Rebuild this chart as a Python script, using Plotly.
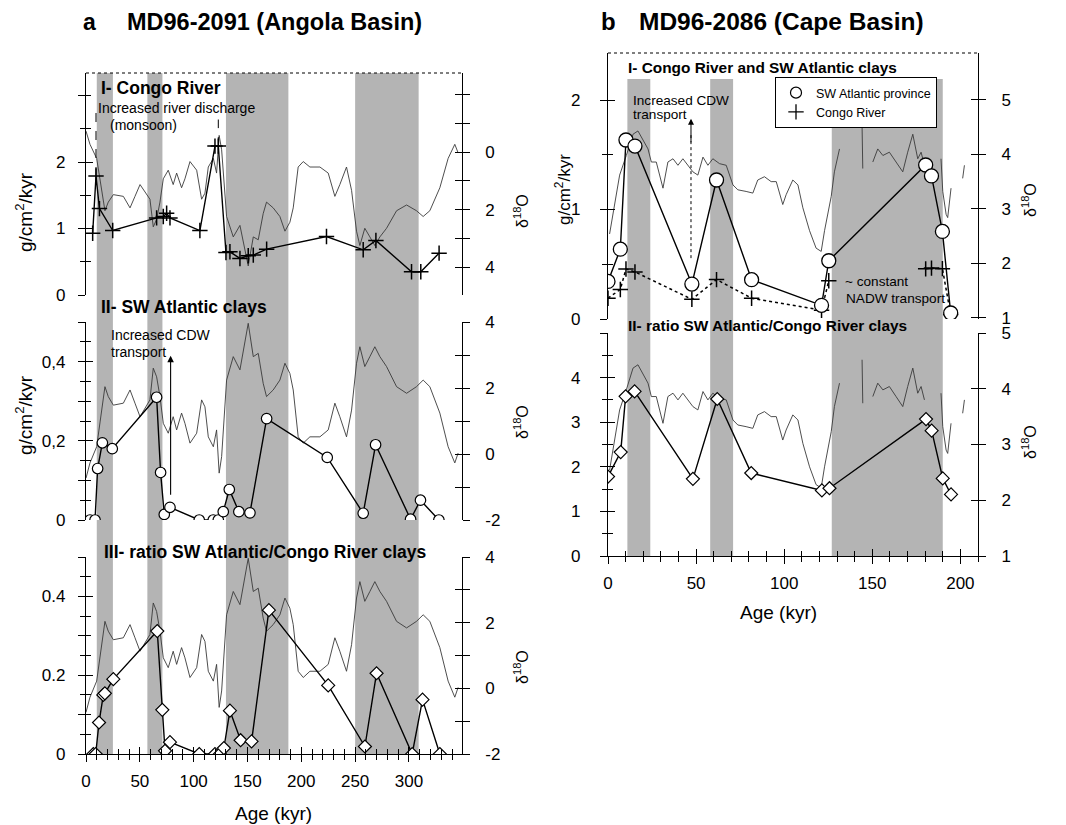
import plotly.graph_objects as go

W, H = 1066, 825
OFF = 8  # the page body margin that the browser adds around the figure

# ---------------------------------------------------------------- data
# glacial stages (shaded), kyr
bands_a_start = [10, 57, 130, 250]
bands_a_end = [25, 71, 188, 309]
bands_b_start = [11, 58, 127]
bands_b_end = [24, 71, 190]

# MD96-2091 benthic d18O
d18o_a_age = [0, 3.7, 9.9, 17.6, 20.7, 25.4, 34.7, 40.9, 45.5, 50.2, 59.4, 62.5, 65.6, 68.7,
              71.8, 76.4, 81, 84.2, 88.8, 91.9, 96.6, 102.8, 107.4, 110.5, 113.6, 118.3, 121.3,
              123.7, 126, 130.6, 136.8, 143, 150.7, 155.4, 160, 164.6, 167.7, 173.9, 180.1,
              184.8, 189.4, 192.5, 197.1, 201.8, 208, 217.3, 225, 231.2, 235.8, 242, 246.7,
              251.3, 254.4, 259, 263.7, 268.3, 273, 279.2, 288.5, 297.8, 307, 313.2, 319.4,
              328.7, 336.4, 342.6, 345.7]
d18o_a = [-0.73, -0.27, 0.22, 2.04, 1.74, 1.48, 1.54, 1.94, 1.54, 1.13, 1.64, 2.6, 2.34, 1.74,
          0.93, 0.63, 1.13, 0.73, 1.24, 0.93, 0.33, 0.63, 1.64, 1.43, 0.52, 0.22, 0.73,
          -0.58, -0.08, 2.24, 2.95, 2.55, 3.96, 2.95, 3.05, 2.14, 1.74, 1.94, 2.24,
          2.75, 2.44, 1.94, 0.52, 0.33, 0.52, 0.52, 0.73, 1.54, 1.13, 0.52, 1.33,
          2.75, 3.25, 2.65, 2.95, 3.25, 2.95, 2.65, 2.04, 1.84, 2.04, 2.24, 2.04,
          1.24, 0.22, -0.27, 0.03]

# MD96-2091 Congo River clays (g/cm2/kyr)
congo_a_age = [6.2, 9.3, 12.5, 24.8, 65.6, 71.8, 74.9, 78.0, 105.8, 119.8, 122.9, 130.0, 133.7,
               143.0, 150.7, 155.4, 167.8, 223.4, 257.5, 269.3, 302.4, 311.0, 328.0]
congo_a = [0.93, 1.79, 1.3, 0.97, 1.16, 1.18, 1.23, 1.16, 0.97, 2.24, 2.24, 0.64, 0.65,
           0.55, 0.59, 0.60, 0.69, 0.88, 0.68, 0.82, 0.35, 0.35, 0.63]

# MD96-2091 SW Atlantic clays (g/cm2/kyr)
sw_a_age = [3.7, 8.4, 10.8, 15.2, 24.4, 65.6, 69.3, 72.7, 78.0, 105.2, 118.2, 122.9, 127.5,
            133.1, 142.0, 152.3, 167.8, 224.1, 257.5, 269.0, 301.5, 310.7, 327.8]
sw_a = [0, 0, 0.13, 0.195, 0.18, 0.31, 0.12, 0.014, 0.032, 0, 0, 0, 0.021,
        0.077, 0.021, 0.018, 0.256, 0.158, 0.017, 0.19, 0.002, 0.05, 0]

# MD96-2091 ratio SW Atlantic / Congo River
ratio_a_age = [6.8, 9.0, 12.1, 16.1, 17.5, 25.4, 66.2, 70.9, 73.4, 78.0, 105.2, 119.8, 124.4,
               128.1, 133.7, 143.6, 153.8, 169.9, 225.0, 259.1, 269.9, 303.0, 312.6, 328.7]
ratio_a = [0, 0, 0.08, 0.15, 0.154, 0.19, 0.312, 0.112, 0.008, 0.03, 0, 0, 0,
           0.015, 0.11, 0.035, 0.032, 0.365, 0.174, 0.019, 0.205, 0, 0.138, 0]

# MD96-2086 benthic d18O (None = gap in record)
d18o_b_age = [0.9, 3.8, 6.6, 10.4, 14.2, 17, 19.8, 22.7, 24.6, 27.4, 31.2, 34, 36.9, 39.7, 42.5,
              45.4, 48.2, 51, 53.9, 56.7, 59.5, 63.3, 67.1, 70.9, 73.7, 78.4, 82.2, 85, 88.8,
              92.6, 95.5, 99.2, 101.1, 104.9, 107.8, 110.6, 114.4, 118.1, 121, 122.9, 124.8,
              126.7, 128.5, 131.4, None, 144.2, 144.6, None, 150.3, 153.1, 156, 159.7, 163.5,
              167.3, 170.1, 173, 175.8, 177.7, 179.6, None, 189, 190, 191.9, 192.8, 194.7,
              None, 201.3, 202.3]
d18o_b = [2.54, 3.08, 3.62, 3.98, 4.37, 4.43, 4.28, 4.1, 3.86, 3.86, 3.38, 3.86, 3.92, 3.8, 3.92,
          3.8, 3.68, 3.62, 3.95, 3.8, 3.92, 3.83, 3.8, 3.44, 3.35, 3.32, 3.29, 3.53, 3.59,
          3.5, 3.5, 3.08, 3.26, 3.53, 3.44, 3.02, 2.6, 2.28, 2.22, 2.6, 2.9,
          3.23, 3.68, 4.1, None, 4.52, 3.74, None, 3.86, 4.1, 3.98, 4.04, 3.86,
          3.68, 4.04, 4.37, 3.92, 4.04, 3.8, None, 3.92, 3.32, 2.9, 2.84, 3.38,
          None, 3.56, 3.8]

# MD96-2086 clays (g/cm2/kyr)
sw_b_age = [0, 7, 10.2, 15.3, 47.6, 61.6, 81.5, 121.2, 125.3, 180.3, 183.6, 189.8, 194.5]
sw_b = [0.343, 0.638, 1.635, 1.58, 0.319, 1.27, 0.359, 0.125, 0.532, 1.407, 1.307, 0.80, 0.055]
congo_b_age = [0, 7, 10.2, 15.3, 47.6, 61.6, 81.5, 121.2, 125.3, None, 180.3, 183.6, 189.8, 194.5]
congo_b = [0.19, 0.27, 0.457, 0.43, 0.18, 0.36, 0.19, 0.08, 0.35, None, 0.458, 0.465, 0.46, 0.04]

# MD96-2086 ratio
ratio_b_age = [0, 7.2, 10, 15.1, 48.2, 62, 81.3, 121.4, 125.7, 180.5, 183.7, 190, 194.7]
ratio_b = [1.78, 2.33, 3.58, 3.69, 1.73, 3.52, 1.86, 1.47, 1.52, 3.07, 2.81, 1.74, 1.38]

# ---------------------------------------------------------------- layout helpers
FONT = "Liberation Sans, Arial, sans-serif"


def fx(p):
    return (p - OFF) / W


def fy(p):
    return 1 - (p - OFF) / H


A_X = (86, 461.7)
B_X = (608, 978)
A1 = (73, 295)
A2 = (322, 520)
A3 = (557, 754)
B1 = (53, 319)
B2 = (333, 556)


def dom_y(top_bottom):
    t, b = top_bottom
    return [fy(b), fy(t)]


base = dict(showline=True, linecolor="black", linewidth=1.4, ticks="outside", ticklen=7,
            tickwidth=1.2, tickcolor="black", showgrid=False, zeroline=False,
            tickfont=dict(size=17, color="black", family=FONT), fixedrange=True)

layout_axes = {}


def add_axis(name, dup_name, overlay_base, **kw):
    ax = dict(base)
    ax.update(kw)
    layout_axes[name] = ax
    # duplicate axis with inside ticks -> ticks cross the axis line
    d = dict(kw)
    d.update(showline=False, showticklabels=False, ticks="inside", ticklen=7, tickwidth=1.2,
             tickcolor="black", showgrid=False, zeroline=False, fixedrange=True,
             overlaying=overlay_base)
    d.pop("domain", None)
    if "minor" in kw:
        m = dict(kw["minor"])
        m["ticks"] = "inside"
        d["minor"] = m
    layout_axes[dup_name] = d


def minor(dt, ln=5):
    return dict(tickmode="linear", tick0=0, dtick=dt, ticks="outside", ticklen=ln,
                tickwidth=1, tickcolor="black")


# x axes
add_axis("xaxis", "xaxis3", "x", domain=[fx(A_X[0]), fx(A_X[1])], range=[0, 349], anchor="y5",
         tickmode="array", tickvals=[0, 50, 100, 150, 200, 250, 300], minor=minor(10, 5),
         ticklabelstandoff=4)
add_axis("xaxis2", "xaxis4", "x2", domain=[fx(B_X[0]), fx(B_X[1])], range=[0, 210], anchor="y9",
         tickmode="array", tickvals=[0, 50, 100, 150, 200], minor=minor(10, 5),
         ticklabelstandoff=4)

# panel a I
add_axis("yaxis", "yaxis11", "y", domain=dom_y(A1), range=[4.97, -2.75], side="right", anchor="x",
         tickmode="array", tickvals=[-2, -1, 0, 1, 2, 3, 4, 5],
         ticktext=["", "", "0", "", "2", "", "4", ""], ticklabelstandoff=12)
add_axis("yaxis2", "yaxis12", "y", overlaying="y", range=[0, 3.34], side="left", anchor="x",
         tickmode="array", tickvals=[0, 1, 2, 3], ticktext=["0", "1", "2", ""],
         minor=minor(0.5), ticklabelstandoff=9)
# panel a II
add_axis("yaxis3", "yaxis13", "y3", domain=dom_y(A2), range=[-2, 4], side="right", anchor="x",
         tickmode="array", tickvals=[-2, -1, 0, 1, 2, 3, 4],
         ticktext=["-2", "", "0", "", "2", "", "4"], ticklabelstandoff=12)
add_axis("yaxis4", "yaxis14", "y3", overlaying="y3", range=[0, 0.5], side="left", anchor="x",
         tickmode="array", tickvals=[0, 0.1, 0.2, 0.3, 0.4, 0.5],
         ticktext=["0", "", "0,2", "", "0,4", ""], minor=minor(0.05), ticklabelstandoff=9)
# panel a III
add_axis("yaxis5", "yaxis15", "y5", domain=dom_y(A3), range=[-2, 4], side="right", anchor="x",
         tickmode="array", tickvals=[-2, -1, 0, 1, 2, 3, 4],
         ticktext=["-2", "", "0", "", "2", "", "4"], ticklabelstandoff=12)
add_axis("yaxis6", "yaxis16", "y5", overlaying="y5", range=[0, 0.5], side="left", anchor="x",
         tickmode="array", tickvals=[0, 0.1, 0.2, 0.3, 0.4, 0.5],
         ticktext=["0", "", "0.2", "", "0.4", ""], minor=minor(0.05), ticklabelstandoff=9)
# panel b I
add_axis("yaxis7", "yaxis17", "y7", domain=dom_y(B1), range=[0.98, 5.86], side="right", anchor="x2",
         tickmode="array", tickvals=[1, 2, 3, 4, 5], ticklabelstandoff=12)
add_axis("yaxis8", "yaxis18", "y7", overlaying="y7", range=[0, 2.43], side="left", anchor="x2",
         tickmode="array", tickvals=[0, 1, 2], minor=minor(0.5), ticklabelstandoff=16)
# panel b II
add_axis("yaxis9", "yaxis19", "y9", domain=dom_y(B2), range=[1, 5], side="right", anchor="x2",
         tickmode="array", tickvals=[1, 2, 3, 4, 5], ticklabelstandoff=12)
add_axis("yaxis10", "yaxis20", "y9", overlaying="y9", range=[0, 5], side="left", anchor="x2",
         tickmode="array", tickvals=[0, 1, 2, 3, 4, 5], ticktext=["0", "1", "2", "3", "4", ""],
         minor=minor(0.5), ticklabelstandoff=16)

fig = go.Figure()

# empty traces so that every duplicate axis is rendered
for xa, ya in [("x3", "y5"), ("x4", "y9"), ("x", "y11"), ("x", "y12"), ("x", "y13"),
               ("x", "y14"), ("x", "y15"), ("x", "y16"), ("x2", "y17"), ("x2", "y18"),
               ("x2", "y19"), ("x2", "y20")]:
    fig.add_trace(go.Scatter(x=[None], y=[None], xaxis=xa, yaxis=ya, mode="markers",
                             showlegend=False, hoverinfo="skip"))

ISO = dict(color="#3a3a3a", width=0.9)
DATA = dict(color="black", width=1.4)

# d18O curves
for ya in ["y", "y3", "y5"]:
    fig.add_trace(go.Scatter(x=d18o_a_age, y=d18o_a, xaxis="x", yaxis=ya, mode="lines",
                             line=ISO, showlegend=False, hoverinfo="skip"))
for ya in ["y7", "y9"]:
    fig.add_trace(go.Scatter(x=d18o_b_age, y=d18o_b, xaxis="x2", yaxis=ya, mode="lines",
                             line=ISO, showlegend=False, hoverinfo="skip", connectgaps=False))

PLUS = dict(symbol="cross-thin", size=11, color="black", line=dict(color="black", width=1.5))
CIRC_A = dict(symbol="circle", size=10.5, color="white", line=dict(color="black", width=1.2))
CIRC_B = dict(symbol="circle", size=14, color="white", line=dict(color="black", width=1.3))
DIAM = dict(symbol="diamond", size=10, color="white", line=dict(color="black", width=1.2))

# panel a
fig.add_trace(go.Scatter(x=congo_a_age, y=congo_a, xaxis="x", yaxis="y2", mode="lines+markers",
                         line=DATA, marker=PLUS, showlegend=False))
fig.add_trace(go.Scatter(x=sw_a_age, y=sw_a, xaxis="x", yaxis="y4", mode="lines+markers",
                         line=DATA, marker=CIRC_A, showlegend=False))
fig.add_trace(go.Scatter(x=ratio_a_age, y=ratio_a, xaxis="x", yaxis="y6", mode="lines+markers",
                         line=DATA, marker=DIAM, showlegend=False))
# panel b
fig.add_trace(go.Scatter(x=congo_b_age, y=congo_b, xaxis="x2", yaxis="y8", mode="lines+markers",
                         line=dict(color="black", width=1.5, dash="dot"), marker=PLUS,
                         showlegend=False, connectgaps=False))
fig.add_trace(go.Scatter(x=sw_b_age, y=sw_b, xaxis="x2", yaxis="y8", mode="lines+markers",
                         line=DATA, marker=CIRC_B, showlegend=False))
fig.add_trace(go.Scatter(x=ratio_b_age, y=ratio_b, xaxis="x2", yaxis="y10", mode="lines+markers",
                         line=DATA, marker=DIAM, showlegend=False))
# legend-only entries
fig.add_trace(go.Scatter(x=[None], y=[None], xaxis="x2", yaxis="y8", mode="markers",
                         name="SW Atlantic province",
                         marker=dict(symbol="circle", size=11, color="white",
                                     line=dict(color="black", width=1.2))))
fig.add_trace(go.Scatter(x=[None], y=[None], xaxis="x2", yaxis="y8", mode="markers",
                         name="Congo River",
                         marker=dict(symbol="cross-thin", size=11, color="black",
                                     line=dict(color="black", width=1.3))))

# ---------------------------------------------------------------- shapes
SHADE = "#b4b4b4"
shapes = []
for s, e in zip(bands_a_start, bands_a_end):
    shapes.append(dict(type="rect", xref="x", yref="paper", x0=s, x1=e, y0=fy(A3[1]), y1=fy(A1[0]),
                       fillcolor=SHADE, line=dict(width=0), layer="below"))
for s, e in zip(bands_b_start, bands_b_end):
    shapes.append(dict(type="rect", xref="x2", yref="paper", x0=s, x1=e, y0=fy(B2[1]), y1=fy(79),
                       fillcolor=SHADE, line=dict(width=0), layer="below"))
# dotted upper frames
shapes.append(dict(type="line", xref="x domain", yref="paper", x0=0, x1=1, y0=fy(A1[0]), y1=fy(A1[0]),
                   line=dict(color="black", width=1.2, dash="dot")))
shapes.append(dict(type="line", xref="x2 domain", yref="paper", x0=0, x1=1, y0=fy(B1[0]), y1=fy(B1[0]),
                   line=dict(color="black", width=1.2, dash="dot")))
# leader lines from the monsoon note to the Congo River peaks
pk1 = congo_a.index(max(congo_a[:5]))
shapes.append(dict(type="line", xref="x", yref="y2", x0=congo_a_age[pk1], x1=congo_a_age[pk1],
                   y0=congo_a[pk1], y1=congo_a[pk1] + 0.95, line=dict(color="black", width=1, dash="dash")))
pk2 = congo_a.index(max(congo_a))
shapes.append(dict(type="line", xref="x", yref="y2", x0=congo_a_age[pk2 + 1], x1=congo_a_age[pk2 + 1],
                   y0=congo_a[pk2 + 1], y1=congo_a[pk2 + 1] + 0.4, line=dict(color="black", width=1, dash="dash")))
# dotted shaft of the CDW arrow in panel b
shapes.append(dict(type="line", xref="x2", yref="y8", x0=47.1, x1=47.1, y0=0.556, y1=1.7,
                   line=dict(color="black", width=1, dash="dot")))

# ---------------------------------------------------------------- annotations
ann = []


def txt(t, x, y, size, bold=False, xanchor="left", angle=0):
    if bold:
        t = "<b>" + t + "</b>"
    ann.append(dict(text=t, x=fx(x), y=fy(y), xref="paper", yref="paper", showarrow=False,
                    xanchor=xanchor, yanchor="middle", textangle=angle,
                    font=dict(family=FONT, size=size, color="black")))


txt("a", 81, 22, 23, bold=True)
txt("MD96-2091 (Angola Basin)", 125, 22, 23.5, bold=True)
txt("b", 599, 22, 24, bold=True)
txt("MD96-2086 (Cape Basin)", 637, 22, 24.5, bold=True)

txt("I- Congo River", 99, 88, 17.5, bold=True)
txt("Increased river discharge", 96, 108, 14)
txt("(monsoon)", 108, 125, 14)
txt("II- SW Atlantic clays", 99, 307, 17.5, bold=True)
txt("Increased CDW", 109, 335, 14)
txt("transport", 109, 352, 14)
txt("III- ratio SW Atlantic/Congo River clays", 102, 552, 17.5, bold=True)
txt("Age (kyr)", 273, 813, 19, xanchor="center")
txt("g/cm<sup>2</sup>/kyr", 24, 212, 19, xanchor="center", angle=-90)
txt("g/cm<sup>2</sup>/kyr", 24, 415, 19, xanchor="center", angle=-90)
txt("δ<sup>18</sup>O", 521, 211, 16, xanchor="center", angle=-90)
txt("δ<sup>18</sup>O", 521, 422, 16, xanchor="center", angle=-90)
txt("δ<sup>18</sup>O", 521, 667, 16, xanchor="center", angle=-90)

txt("I- Congo River and SW Atlantic clays", 626, 67, 15.4, bold=True)
txt("Increased CDW", 631, 100, 13.6)
txt("transport", 631, 115, 13.6)
txt("~ constant", 843, 282, 13.6)
txt("NADW transport", 844, 298, 13.6)
txt("II- ratio SW Atlantic/Congo River clays", 626, 325, 15.4, bold=True)
txt("Age (kyr)", 778, 612, 19, xanchor="center")
txt("g/cm<sup>2</sup>/kyr", 563, 190, 17, xanchor="center", angle=-90)
txt("δ<sup>18</sup>O", 1029, 200, 16, xanchor="center", angle=-90)
txt("δ<sup>18</sup>O", 1029, 442, 16, xanchor="center", angle=-90)

# arrows (CDW transport)
ann.append(dict(x=78.6, y=0.415, xref="x", yref="y4", ax=78.6, ay=0.06, axref="x", ayref="y4",
                text="", showarrow=True, arrowhead=2, arrowsize=1.2, arrowwidth=1.1, arrowcolor="black"))
ann.append(dict(x=47.1, y=1.83, xref="x2", yref="y8", ax=47.1, ay=1.6, axref="x2", ayref="y8",
                text="", showarrow=True, arrowhead=2, arrowsize=1.2, arrowwidth=1.0, arrowcolor="black"))

fig.update_layout(
    width=W, height=H, autosize=False,
    margin=dict(l=0, r=0, t=0, b=0, pad=0, autoexpand=False),
    paper_bgcolor="white", plot_bgcolor="rgba(0,0,0,0)",
    font=dict(family=FONT, color="black"),
    shapes=shapes, annotations=ann,
    showlegend=True,
    legend=dict(x=fx(775), y=fy(77), xanchor="left", yanchor="top", bgcolor="white",
                bordercolor="black", borderwidth=1, font=dict(size=12.5, family=FONT),
                itemwidth=30, tracegroupgap=0),
    **layout_axes,
)

fig.write_html("out.html")
